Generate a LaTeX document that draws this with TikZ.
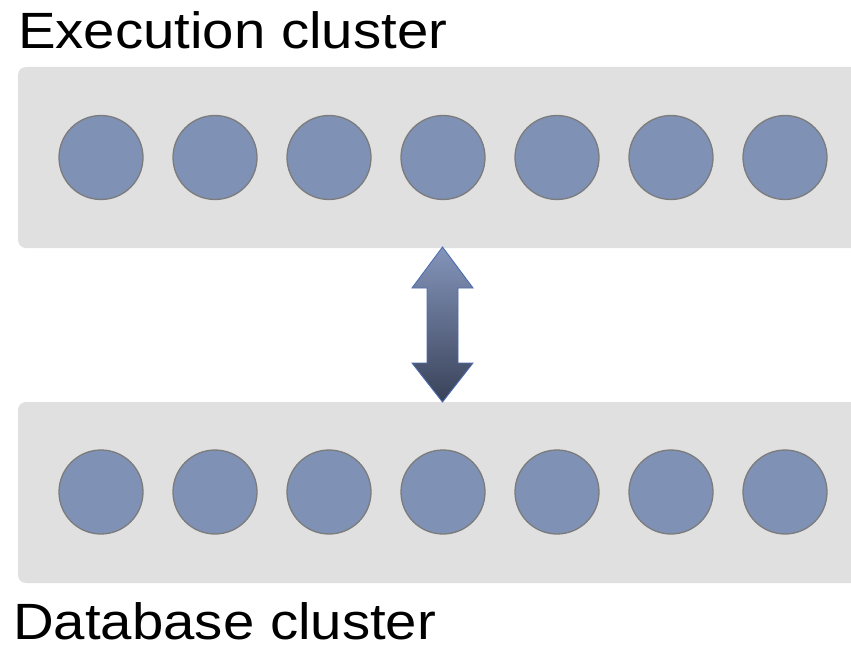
\documentclass[tikz,border=0pt]{standalone}
\usepackage{fontspec}
\setmainfont{Liberation Sans}
\newfontfamily\labelfont[FakeStretch=1.105]{Liberation Sans}
\begin{document}
\begin{tikzpicture}[x=1pt,y=-1pt,
  cluster/.style={fill=clusterbg, draw=none, rounded corners=8pt},
  worker/.style={circle, fill=workerfill, draw=workerline, line width=1.3pt,
    minimum size=84pt, inner sep=0pt},
  title/.style={anchor=base west, inner sep=0pt,
    font=\labelfont\fontsize{51}{58}\selectfont, text=black},
  linkarrow/.style={top color=arrowtop, bottom color=arrowbottom,
    draw=arrowline, line width=0.9pt, line join=miter}]
\definecolor{clusterbg}{HTML}{E0E0E0}
\definecolor{workerfill}{HTML}{7F91B4}
\definecolor{workerline}{HTML}{7C7C7C}
\definecolor{arrowtop}{HTML}{8495BB}
\definecolor{arrowbottom}{HTML}{394259}
\definecolor{arrowline}{HTML}{4E6DB0}

\useasboundingbox (0,0) rectangle (851,650);
\clip (0,0) rectangle (851,650);

% cluster panels (they run past the right edge)
\path[cluster] (18,67) rectangle (880,248);
\path[cluster] (18,402) rectangle (880,583);

% cluster titles
\node[title] (exectitle) at (18,49) {Execution cluster};
\node[title] (dbtitle) at (13,639) {Database cluster};

% worker nodes in each cluster
\foreach \i in {0,...,6} {
  \node[worker] (e\i) at (101+114*\i,157.5) {};
  \node[worker] (d\i) at (101+114*\i,492) {};
}

% two-headed block arrow between the clusters
\coordinate (uptip) at (442.5,247);
\coordinate (downtip) at (442.5,402);
\path[linkarrow] (uptip) -- (473,288) -- (458,288) -- (458,363) -- (473,363)
  -- (downtip) -- (412,363) -- (427,363) -- (427,288) -- (412,288) -- cycle;
\end{tikzpicture}
\end{document}
